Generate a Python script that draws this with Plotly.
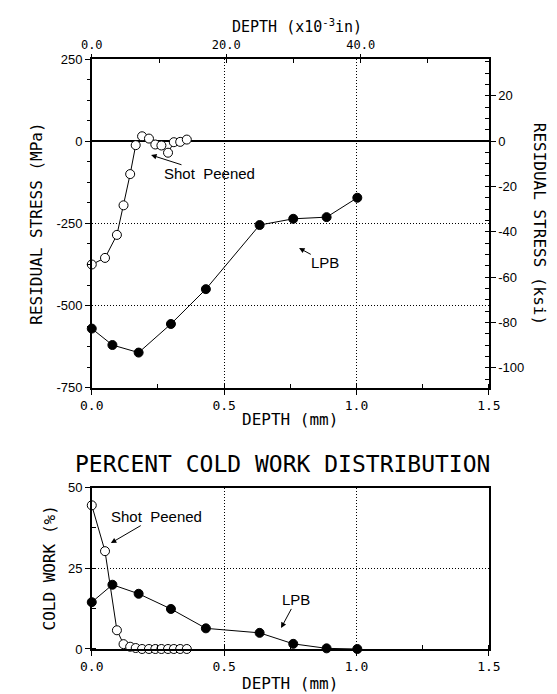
import plotly.graph_objects as go

# ---------------- data ----------------
sp_depth = [0.0, 0.05, 0.095, 0.12, 0.145, 0.166, 0.19, 0.216, 0.24, 0.263, 0.288, 0.31, 0.334, 0.359]
sp_stress = [-375, -355, -285, -195, -100, -12, 15, 8, -10, -13, -35, -3, -2, 5]
sp_coldwork = [44.5, 30.3, 5.8, 1.5, 0.7, 0.3, 0, 0, 0, 0, 0, 0, 0, 0]

lpb_depth = [0.0, 0.078, 0.177, 0.299, 0.431, 0.634, 0.761, 0.887, 1.003]
lpb_stress = [-570, -620, -643, -556, -450, -255, -236, -231, -172]
lpb_coldwork = [14.5, 19.9, 17.1, 12.4, 6.4, 5.0, 1.6, 0.2, 0.0]

x_ticks = [0.0, 0.5, 1.0, 1.5]
x_ticktext = ["0.0", "0.5", "1.0", "1.5"]
mil_ticks = [0, 20, 40]
mil_ticktext = ["0.0", "20.0", "40.0"]
mpa_ticks = [-750, -500, -250, 0, 250]
mpa_ticktext = ["-750", "-500", "-250", "0", "250"]
ksi_ticks = [-100, -80, -60, -40, -20, 0, 20]
ksi_ticktext = ["-100", "-80", "-60", "-40", "-20", "0", "20"]
cw_ticks = [0, 25, 50]
cw_ticktext = ["0", "25", "50"]

MPA_PER_KSI = 6.894757
MM_PER_MIL = 0.0254

W, H = 557, 694
def px(x):
    return x / W
def py(y):
    return 1 - y / H

MONO = "DejaVu Sans Mono"
SANS = "Liberation Sans"

fig = go.Figure()

open_marker = dict(symbol="circle", size=9, color="white", line=dict(color="black", width=1))
fill_marker = dict(symbol="circle", size=9, color="black", line=dict(color="black", width=1))

fig.add_trace(go.Scatter(x=lpb_depth, y=lpb_stress, mode="lines+markers",
                         line=dict(color="black", width=1), marker=fill_marker,
                         xaxis="x", yaxis="y", showlegend=False, cliponaxis=False))
fig.add_trace(go.Scatter(x=sp_depth, y=sp_stress, mode="lines+markers",
                         line=dict(color="black", width=1), marker=open_marker,
                         xaxis="x", yaxis="y", showlegend=False, cliponaxis=False))
# invisible companions so that the secondary (in / ksi) axes are drawn
fig.add_trace(go.Scatter(x=[d / MM_PER_MIL for d in lpb_depth], y=lpb_stress, mode="markers",
                         marker=dict(opacity=0), hoverinfo="skip",
                         xaxis="x2", yaxis="y", showlegend=False))
fig.add_trace(go.Scatter(x=lpb_depth, y=[s / MPA_PER_KSI for s in lpb_stress], mode="markers",
                         marker=dict(opacity=0), hoverinfo="skip",
                         xaxis="x", yaxis="y2", showlegend=False))
fig.add_trace(go.Scatter(x=lpb_depth, y=lpb_coldwork, mode="lines+markers",
                         line=dict(color="black", width=1), marker=fill_marker,
                         xaxis="x3", yaxis="y3", showlegend=False, cliponaxis=False))
fig.add_trace(go.Scatter(x=sp_depth, y=sp_coldwork, mode="lines+markers",
                         line=dict(color="black", width=1), marker=open_marker,
                         xaxis="x3", yaxis="y3", showlegend=False, cliponaxis=False))

xdom = [px(75), px(490)]
axis_common = dict(showline=True, linecolor="black", linewidth=1.5,
                   ticks="outside", tickcolor="black", ticklen=5, tickwidth=1)

grid = dict(showgrid=True, gridcolor="black", gridwidth=1, griddash="1px,2px")

fig.update_layout(
    width=W, height=H,
    margin=dict(l=0, r=0, t=0, b=0),
    plot_bgcolor="white", paper_bgcolor="white",
    xaxis=dict(domain=xdom, anchor="y", range=[0, 1.5], tickvals=x_ticks, ticktext=x_ticktext,
               tickfont=dict(family=MONO, size=13, color="black"), zeroline=False,
               minor=dict(dtick=0.25, ticks="inside", ticklen=4, tickcolor="black", showgrid=False),
               **axis_common, **grid),
    xaxis2=dict(overlaying="x", anchor="y", side="top", range=[0, 1.5 / MM_PER_MIL],
                tickvals=mil_ticks, ticktext=mil_ticktext, showgrid=False, zeroline=False,
                tickfont=dict(family=MONO, size=12, color="black"),
                minor=dict(dtick=10, ticks="inside", ticklen=4, tickcolor="black", showgrid=False),
                showline=True, linecolor="black", linewidth=1.5,
                ticks="outside", tickcolor="black", ticklen=3, tickwidth=1),
    yaxis=dict(domain=[py(381), py(45)], anchor="x", range=[-750, 250],
               tickvals=mpa_ticks, ticktext=mpa_ticktext,
               tickfont=dict(family=SANS, size=13, color="black"),
               zeroline=True, zerolinecolor="black", zerolinewidth=1.5,
               minor=dict(dtick=62.5, tick0=0, ticks="outside", ticklen=3, tickcolor="black", showgrid=False),
               **axis_common, **grid),
    yaxis2=dict(overlaying="y", anchor="x", side="right",
                range=[-750 / MPA_PER_KSI, 250 / MPA_PER_KSI],
                tickvals=ksi_ticks, ticktext=ksi_ticktext, showgrid=False, zeroline=False,
                tickfont=dict(family=SANS, size=13, color="black"),
                minor=dict(dtick=5, tick0=0, ticks="inside", ticklen=4, tickcolor="black", showgrid=False),
                **axis_common),
    xaxis3=dict(domain=xdom, anchor="y3", range=[0, 1.5], tickvals=x_ticks, ticktext=x_ticktext,
                tickfont=dict(family=MONO, size=13, color="black"), zeroline=False, mirror=True,
                minor=dict(dtick=0.25, ticks="inside", ticklen=4, tickcolor="black", showgrid=False),
                **axis_common, **grid),
    yaxis3=dict(domain=[py(648), py(483)], anchor="x3", range=[0, 50],
                tickvals=cw_ticks, ticktext=cw_ticktext, zeroline=False, mirror=True,
                tickfont=dict(family=SANS, size=13, color="black"),
                minor=dict(dtick=12.5, ticks="inside", ticklen=4, tickcolor="black", showgrid=False),
                **axis_common, **grid),
)

ann = []
def text_ann(x, y, text, size, family=MONO, angle=0, xanchor="center"):
    ann.append(dict(x=px(x), y=py(y), xref="paper", yref="paper", text=text, showarrow=False,
                    textangle=angle, xanchor=xanchor, yanchor="middle",
                    font=dict(family=family, size=size, color="black")))

text_ann(289, 11, "DEPTH (x10<sup>-3</sup>in)", 15)
text_ann(282, 413, "DEPTH (mm)", 16)
text_ann(17, 213, "RESIDUAL STRESS (MPa)", 16, angle=-90)
text_ann(543, 213, "RESIDUAL STRESS (ksi)", 16, angle=90)
text_ann(274, 459, "PERCENT COLD WORK DISTRIBUTION", 23)
text_ann(31, 565, "COLD WORK (%)", 16, angle=-90)
text_ann(282, 683, "DEPTH (mm)", 16)

def arrow_ann(xr, yr, hx, hy, label_x, label_y, text):
    ann.append(dict(x=hx, y=hy, ax=label_x, ay=label_y, xref=xr, yref=yr, axref=xr, ayref=yr,
                    text=text, showarrow=True, arrowhead=2, arrowsize=1.1, arrowwidth=1,
                    arrowcolor="black", borderpad=0,
                    font=dict(family=SANS, size=15, color="black")))

arrow_ann("x", "y", 0.224, -42, 0.445, -99, "Shot&nbsp; Peened")
arrow_ann("x", "y", 0.783, -325, 0.882, -368, "LPB")
arrow_ann("x3", "y3", 0.072, 32.8, 0.243, 41.0, "Shot&nbsp; Peened")
arrow_ann("x3", "y3", 0.715, 6.5, 0.772, 15.2, "LPB")

fig.update_layout(annotations=ann)

fig.write_html("out.html")
